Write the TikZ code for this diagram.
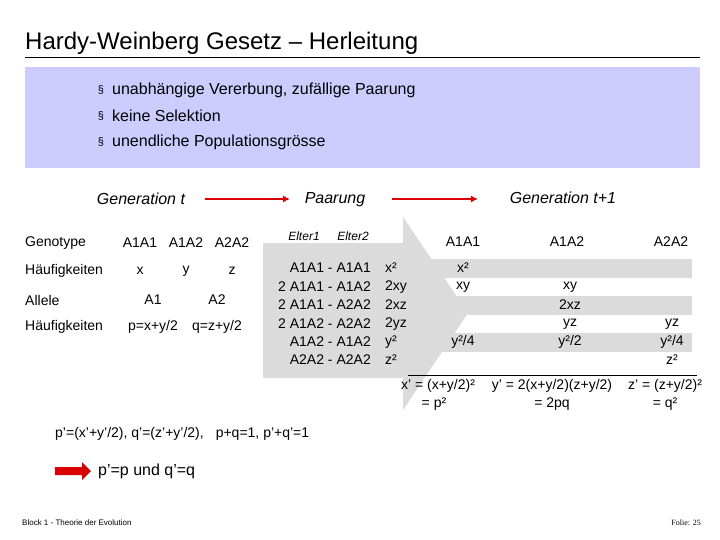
\documentclass[tikz,border=0pt]{standalone}
\usepackage{fontspec}
\usetikzlibrary{arrows.meta}
\setmainfont{Liberation Sans}
\newfontfamily\seriff{Liberation Serif}
\begin{document}
\begin{tikzpicture}[x=1pt,y=-1pt,
  t/.style={font=\fontsize{14}{16}\selectfont, inner sep=0pt},
  bt/.style={font=\fontsize{16}{18}\selectfont, inner sep=0pt},
  it/.style={font=\fontsize{16}{18}\selectfont\itshape, inner sep=0pt},
  sm/.style={font=\fontsize{12}{14}\selectfont\itshape, inner sep=0pt}]
\useasboundingbox (0,0) rectangle (720,540);
\fill[white] (0,0) rectangle (720,540);
\node[anchor=west, font=\fontsize{24}{28}\selectfont, inner sep=0] (title) at (25,43) {Hardy-Weinberg Gesetz – Herleitung};
\draw[line width=0.8pt] (25,57) -- (700,57);
\fill[blue!20] (25,67) rectangle (700,168);
\foreach \yy/\tx [count=\i] in {90/unabhängige Vererbung{,} zufällige Paarung,116/keine Selektion,142/unendliche Populationsgrösse}{
  \node[anchor=west, bt] (b\i) at (112,\yy) {\tx};
  \node[font=\fontsize{11}{13}\selectfont, inner sep=0] (s\i) at (101,\yy) {§};
}
% header
\node[it] (gt) at (141,199) {Generation t};
\node[it] (pa) at (335,200) {Paarung};
\node[it] (gt1) at (563,198) {Generation t+1};
\draw[red!85!black, line width=1.2pt, -{Latex[length=7pt,width=7pt]}] (205,199) -- (290,199);
\draw[red!85!black, line width=1.2pt, -{Latex[length=7pt,width=7pt]}] (392,199) -- (478,199);
% gray arrow
\fill[black!14] (263,243) -- (403,243) -- (403,217) -- (468,313) -- (403,410) -- (403,378) -- (263,378) -- cycle;
% bands
\foreach \yy in {268,305,342}{ \fill[black!14] (403,\yy-9.5) rectangle (692,\yy+9.5); }
% left table
\node[anchor=west,t] (g) at (25,243) {Genotype};
\node[t] (c1) at (140,243) {A1A1}; \node[t] (c2) at (186,243) {A1A2}; \node[t] (c3) at (232,243) {A2A2};
\node[anchor=west,t] (h1) at (25,271) {Häufigkeiten};
\node[t] (vx) at (140,271) {x}; \node[t] (vy) at (186,271) {y}; \node[t] (vz) at (232,271) {z};
\node[anchor=west,t] (al) at (25,300) {Allele};
\node[t] (a1) at (153,300) {A1}; \node[t] (a2) at (217,300) {A2};
\node[anchor=west,t] (h2) at (25,327) {Häufigkeiten};
\node[t] (pp) at (153,327) {p=x+y/2}; \node[t] (qq) at (217,327) {q=z+y/2};
% Elter
\node[sm] (e1) at (304,236) {Elter1}; \node[sm] (e2) at (353,236) {Elter2};
\foreach \yy/\pr/\v [count=\i] in {268/A1A1 - A1A1/x²,287/2 A1A1 - A1A2/2xy,305/2 A1A1 - A2A2/2xz,324/2 A1A2 - A2A2/2yz,342/A1A2 - A1A2/y²,360/A2A2 - A2A2/z²}{
  \node[anchor=east,t] (p\i) at (371,\yy) {\pr};
  \node[anchor=west,t] (v\i) at (385,\yy) {\v};
}
\node[t] (r1) at (463,242) {A1A1}; \node[t] (r2) at (567,242) {A1A2}; \node[t] (r3) at (671,242) {A2A2};
\node[t] (m1) at (463,268) {x²};
\node[t] (m2) at (463,287) {xy};
\node[t] (m3) at (570,287) {xy};
\node[t] (m4) at (570,305) {2xz};
\node[t] (m5) at (570,324) {yz};
\node[t] (m6) at (672,324) {yz};
\node[t] (m7) at (463,342) {y²/4};
\node[t] (m8) at (570,342) {y²/2};
\node[t] (m9) at (672,342) {y²/4};
\node[t] (m10) at (672,360) {z²};
\draw[line width=0.8pt] (408,375) -- (697,375);
\node[t] (f1) at (438,386) {x' = (x+y/2)²};
\node[t] (f2) at (434,404) {= p²};
\node[t] (f3) at (552,386) {y' = 2(x+y/2)(z+y/2)};
\node[t] (f4) at (552,404) {= 2pq};
\node[t] (f5) at (665,386) {z' = (z+y/2)²};
\node[t] (f6) at (665,404) {= q²};
\node[anchor=west,t] (pl) at (55,434) {p'=(x'+y'/2), q'=(z'+y'/2),\hspace{12pt}p+q=1, p'+q'=1};
\fill[red!85!black] (55,467) -- (82,467) -- (82,462) -- (91,471) -- (82,480) -- (82,475) -- (55,475) -- cycle;
\node[anchor=west,bt] (res) at (98,471) {p'=p und q'=q};
\node[anchor=west, font=\fontsize{8}{10}\selectfont, inner sep=0] (ft) at (22,523) {Block 1 - Theorie der Evolution};
\node[anchor=east, font=\fontsize{8}{10}\selectfont\seriff, inner sep=0] (fo) at (701,523) {Folie: 25};
\end{tikzpicture}
\end{document}
